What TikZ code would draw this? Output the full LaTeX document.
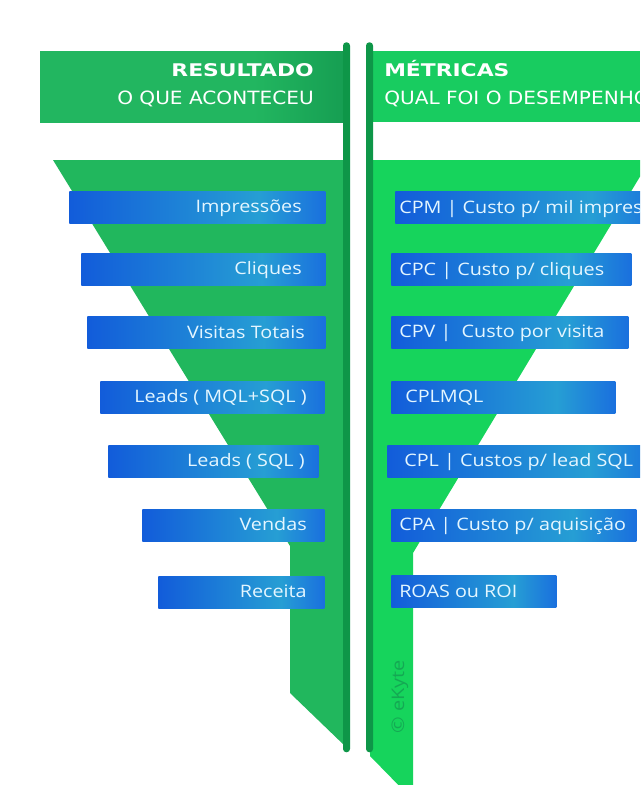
\documentclass[tikz,border=0pt]{standalone}
\usepackage{fontspec}
\setmainfont{Open Sans}[FakeStretch=1.15]
\newfontfamily\hdbold{DejaVu Sans}[FakeStretch=1.25]
\newfontfamily\hdreg{DejaVu Sans}[FakeStretch=1.1]
\definecolor{bandL}{RGB}{34,182,96}
\definecolor{bandLd}{RGB}{22,158,82}
\definecolor{bandR}{RGB}{24,204,96}
\definecolor{funL}{RGB}{33,183,93}
\definecolor{funR}{RGB}{22,212,92}
\definecolor{poleC}{RGB}{14,150,72}
\definecolor{bA}{RGB}{18,92,218}
\definecolor{bB}{RGB}{38,158,212}
\definecolor{bC}{RGB}{26,112,222}
\definecolor{txtC}{RGB}{228,246,255}
\definecolor{wmC}{RGB}{20,150,80}
\pgfdeclarehorizontalshading{boxshade}{100bp}{color(0bp)=(bA); color(25bp)=(bA); color(62bp)=(bB); color(75bp)=(bC); color(100bp)=(bC)}
\pgfdeclarehorizontalshading{bandshade}{100bp}{color(0bp)=(bandL); color(25bp)=(bandL); color(60bp)=(bandL); color(75bp)=(bandLd); color(100bp)=(bandLd)}
\tikzset{
  bluebox/.style={shading=boxshade, inner sep=0pt, minimum height=24pt, draw=none},
  ltxt/.style={anchor=base east, inner sep=0pt, text=txtC, font=\fontsize{12.9}{15}\selectfont},
  rtxt/.style={anchor=base west, inner sep=0pt, text=txtC, font=\fontsize{12.9}{15}\selectfont},
  htitle/.style={inner sep=0pt, text=white, font=\hdbold\bfseries\fontsize{13.1}{16}\selectfont},
  hsub/.style={inner sep=0pt, text=white, font=\hdreg\fontsize{13.7}{16}\selectfont},
  polebar/.style={fill=poleC, rounded corners=2.5pt}
}
\begin{document}
\begin{tikzpicture}[x=0.75pt,y=-0.75pt]
\useasboundingbox (0,0) rectangle (640,785);
\clip (0,0) rectangle (640,785);
\fill[white] (0,0) rectangle (640,785);
% header bands
\path[shading=bandshade] (40,51) rectangle (345,122);
\fill[bandR] (370,51) rectangle (640,122);
% funnels
\fill[funL] (53,160) -- (345,160) -- (345,746) -- (290,693) -- (290,546) -- cycle;
\fill[funR] (370,160) -- (650,160) -- (413,553) -- (413,800) -- (370,756) -- cycle;
% poles
\node[polebar, minimum width=5.25pt, minimum height=532.5pt, inner sep=0pt, anchor=north] (poleL) at (346.5,42) {};
\node[polebar, minimum width=5.25pt, minimum height=532.5pt, inner sep=0pt, anchor=north] (poleR) at (369.5,42) {};
% headers
\node[htitle, anchor=base east] (t1) at (314,76) {RESULTADO};
\node[hsub, anchor=base east] (s1) at (314,104) {O QUE ACONTECEU};
\node[htitle, anchor=base west] (t2) at (384,76) {MÉTRICAS};
\node[hsub, anchor=base west] (s2) at (384,104) {QUAL FOI O DESEMPENHO};
% left boxes
\node[bluebox, anchor=west, minimum width=192pt] (l1) at (69,207) {};
\node[bluebox, anchor=west, minimum width=183pt] (l2) at (81,269) {};
\node[bluebox, anchor=west, minimum width=178.5pt] (l3) at (87,332.5) {};
\node[bluebox, anchor=west, minimum width=168pt] (l4) at (100,397) {};
\node[bluebox, anchor=west, minimum width=157.5pt] (l5) at (108,461) {};
\node[bluebox, anchor=west, minimum width=136.5pt] (l6) at (142,525) {};
\node[bluebox, anchor=west, minimum width=124.5pt] (l7) at (158,592) {};
\node[ltxt] (lt1) at (302,212.5) {Impressões};
\node[ltxt] (lt2) at (302,274.5) {Cliques};
\node[ltxt] (lt3) at (305,338) {Visitas Totais};
\node[ltxt] (lt4) at (307,402.5) {Leads ( MQL+SQL )};
\node[ltxt] (lt5) at (305,466.5) {Leads ( SQL )};
\node[ltxt] (lt6) at (307,530.5) {Vendas};
\node[ltxt] (lt7) at (307,597.5) {Receita};
% right boxes
\node[bluebox, anchor=west, minimum width=198.75pt] (r1) at (395,207.5) {};
\node[bluebox, anchor=west, minimum width=180pt] (r2) at (391,269.5) {};
\node[bluebox, anchor=west, minimum width=177.75pt] (r3) at (391,332) {};
\node[bluebox, anchor=west, minimum width=168pt] (r4) at (391,397) {};
\node[bluebox, anchor=west, minimum width=204.75pt] (r5) at (387,461) {};
\node[bluebox, anchor=west, minimum width=183.75pt] (r6) at (391,525) {};
\node[bluebox, anchor=west, minimum width=123.75pt] (r7) at (391,591.5) {};
\node[rtxt] (rt1) at (399,213) {CPM | Custo p/ mil impressões};
\node[rtxt] (rt2) at (399,275) {CPC | Custo p/ cliques};
\node[rtxt] (rt3) at (399,337.5) {CPV |\ \ Custo por visita};
\node[rtxt] (rt4) at (405,402.5) {CPLMQL};
\node[rtxt] (rt5) at (404,466.5) {CPL | Custos p/ lead SQL};
\node[rtxt] (rt6) at (399,530.5) {CPA | Custo p/ aquisição};
\node[rtxt] (rt7) at (399,597) {ROAS ou ROI};
% watermark
\node[rotate=90, text=wmC, opacity=0.7, inner sep=0pt, font=\fontsize{13}{14}\selectfont] (wm) at (400,697) {© eKyte};
\end{tikzpicture}
\end{document}
